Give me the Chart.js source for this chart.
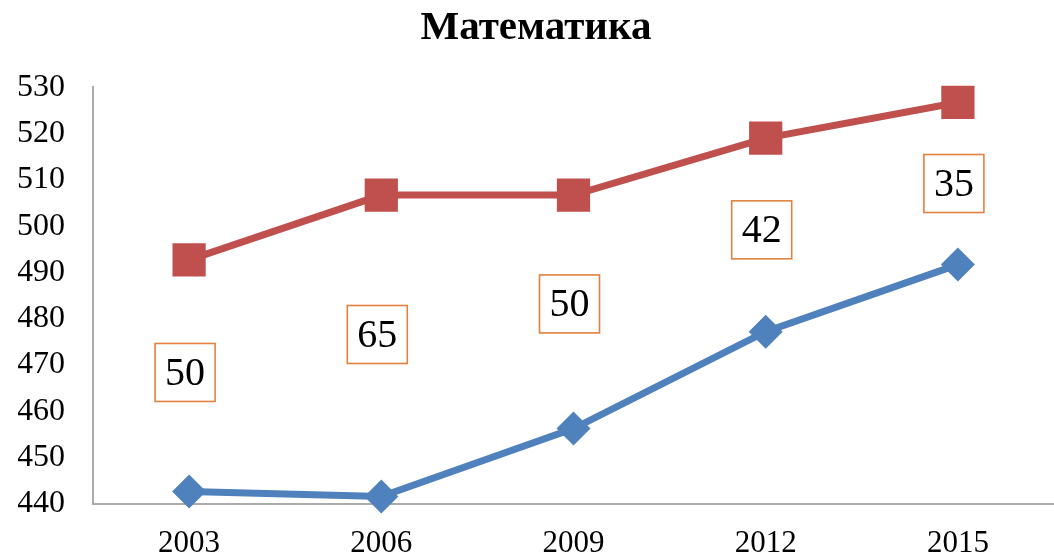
<!DOCTYPE html>
<html>
<head>
<meta charset="utf-8">
<title>Математика</title>
<script src="https://cdn.jsdelivr.net/npm/chart.js@4.4.1/dist/chart.umd.min.js"></script>
<style>
  html, body { margin: 0; padding: 0; background: #fff; }
  canvas { display: block; }
</style>
</head>
<body>
<canvas id="myChart" width="1054" height="558"></canvas>
<script>
var years = ['2003', '2006', '2009', '2012', '2015'];
var seriesTop = [492.7, 506.7, 506.7, 519, 526.7];
var seriesBottom = [442.7, 441.6, 456.3, 477.2, 491.7];
// numbers shown in the orange boxes, and the height (axis units) where each box sits
var boxNumbers = [50, 65, 50, 42, 35];
var boxLevels = [468.4, 476.6, 483.2, 499.2, 509.2];

var serif = '"Liberation Serif", "Times New Roman", serif';

// draws the boxed numbers on top of the hidden third dataset
var boxedLabels = {
    id: 'boxedLabels',
    afterDatasetsDraw: function(chart) {
        var ctx = chart.ctx;
        var meta = chart.getDatasetMeta(2);
        ctx.save();
        ctx.font = '40px ' + serif;
        ctx.textAlign = 'center';
        ctx.textBaseline = 'middle';
        meta.data.forEach(function(pt, i) {
            var x = pt.x - 4, y = pt.y;
            ctx.fillStyle = '#ffffff';
            ctx.fillRect(x - 30, y - 29, 60, 58);
            ctx.strokeStyle = '#E3823F';
            ctx.lineWidth = 1.6;
            ctx.strokeRect(x - 30, y - 29, 60, 58);
            ctx.fillStyle = '#000000';
            ctx.fillText(String(boxNumbers[i]), x, y + 2);
        });
        ctx.restore();
    }
};

var ctx = document.getElementById('myChart');
var myChart = new Chart(ctx, {
    type: 'line',
    data: {
        labels: years,
        datasets: [{
            label: 'top',
            data: seriesTop,
            borderColor: '#C0504D',
            backgroundColor: '#C0504D',
            borderWidth: 7,
            pointStyle: 'rect',
            pointRadius: 23.5,
            pointBorderWidth: 0,
            tension: 0
        }, {
            label: 'bottom',
            data: seriesBottom,
            borderColor: '#4F81BD',
            backgroundColor: '#4F81BD',
            borderWidth: 7,
            pointStyle: 'rectRot',
            pointRadius: 17,
            pointBorderWidth: 0,
            tension: 0
        }, {
            label: 'boxes',
            data: boxLevels,
            showLine: false,
            pointRadius: 0
        }]
    },
    options: {
        responsive: false,
        animation: false,
        clip: false,
        layout: { autoPadding: false, padding: { left: 18, right: 0, top: 0, bottom: 0 } },
        plugins: {
            legend: { display: false },
            tooltip: { enabled: false },
            title: {
                display: true,
                text: 'Математика',
                color: '#000000',
                font: { family: serif, size: 41, weight: 'bold' },
                padding: { top: 4, bottom: 34 }
            }
        },
        scales: {
            x: {
                offset: true,
                grid: { display: false, drawTicks: false },
                border: { display: true, color: '#ABABAB', width: 2 },
                afterFit: function(scale) { scale.height = 54; },
                ticks: {
                    color: '#000000',
                    padding: 24,
                    maxRotation: 0,
                    font: { family: serif, size: 31, lineHeight: 1 }
                }
            },
            y: {
                min: 440,
                max: 530,
                grid: { display: false, drawTicks: false },
                border: { display: true, color: '#ABABAB', width: 2 },
                afterFit: function(scale) { scale.width = 75; },
                ticks: {
                    stepSize: 10,
                    color: '#000000',
                    padding: 28,
                    font: { family: serif, size: 32 }
                }
            }
        }
    },
    plugins: [boxedLabels]
});
</script>
</body>
</html>
